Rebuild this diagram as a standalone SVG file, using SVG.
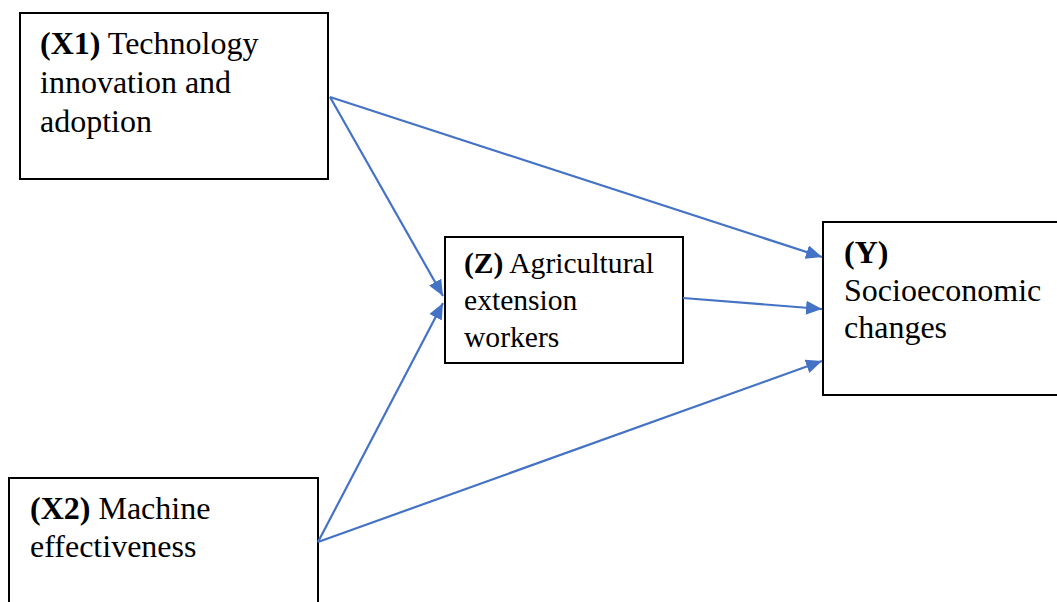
<svg xmlns="http://www.w3.org/2000/svg" width="1057" height="602" viewBox="0 0 1057 602">
<style>
.box{fill:#fff;stroke:#000;stroke-width:2}
.t{font-family:"Liberation Serif","Times New Roman",serif;font-size:32px;fill:#000}
.s{font-size:29.6px}
.b{font-weight:bold}
.c{stroke:#4472C4;stroke-width:2.2;fill:none;marker-end:url(#ah)}
</style>
<defs>
<marker id="ah" markerUnits="userSpaceOnUse" markerWidth="18" markerHeight="14" refX="16" refY="7" orient="auto">
<path d="M0,0 L16,7 L0,14 Z" fill="#4472C4"/>
</marker>
</defs>
<rect width="1057" height="602" fill="#fff"/>
<g id="node-x1">
<rect class="box" x="20" y="13" width="308" height="166"/>
<text class="t" x="40" y="54"><tspan class="b">(X1)</tspan> Technology</text>
<text class="t" x="40" y="93">innovation and</text>
<text class="t" x="40" y="132">adoption</text>
</g>
<g id="node-z">
<rect class="box" x="445" y="237" width="238" height="126"/>
<text class="t s" x="464" y="273"><tspan class="b">(Z)</tspan> Agricultural</text>
<text class="t s" x="464" y="310">extension</text>
<text class="t s" x="464" y="347">workers</text>
</g>
<g id="node-y">
<rect class="box" x="823" y="222" width="240" height="173"/>
<text class="t b" x="844" y="263">(Y)</text>
<text class="t" x="844" y="301">Socioeconomic</text>
<text class="t" x="844" y="338">changes</text>
</g>
<g id="node-x2">
<rect class="box" x="9" y="478" width="309" height="130"/>
<text class="t" x="30" y="519"><tspan class="b">(X2)</tspan> Machine</text>
<text class="t" x="30" y="557">effectiveness</text>
</g>
<g id="connectors">
<line class="c" x1="330" y1="97" x2="443" y2="296"/>
<line class="c" x1="330" y1="97" x2="822" y2="257"/>
<line class="c" x1="318" y1="542" x2="443" y2="303"/>
<line class="c" x1="683" y1="298" x2="822" y2="309"/>
<line class="c" x1="318" y1="542" x2="822" y2="361"/>
</g>
</svg>
